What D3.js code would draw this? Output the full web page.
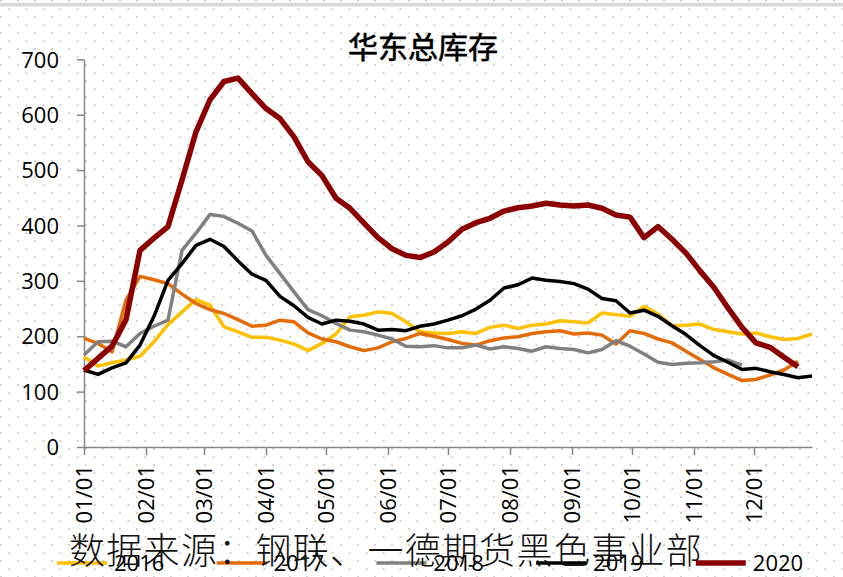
<!DOCTYPE html>
<html>
<head>
<meta charset="utf-8">
<script src="https://cdn.jsdelivr.net/npm/d3@7"></script>
<style>
  body { margin: 0; background: #fff; }
  svg { display: block; }
</style>
</head>
<body>
<div id="chart-area"></div>
<script>
// weekly sample dates (month/day), drawn on a common year axis
var weeks = ["01/01","01/08","01/15","01/22","01/29","02/05","02/12","02/19","02/26","03/04",
    "03/11","03/18","03/25","04/01","04/08","04/15","04/22","04/29","05/06","05/13",
    "05/20","05/27","06/03","06/10","06/17","06/24","07/01","07/08","07/15","07/22",
    "07/29","08/05","08/12","08/19","08/26","09/02","09/09","09/16","09/23","09/30",
    "10/07","10/14","10/21","10/28","11/04","11/11","11/18","11/25","12/02","12/09",
    "12/16","12/23","12/30"];

var monthTicks = ["01/01","02/01","03/01","04/01","05/01","06/01","07/01","08/01","09/01","10/01","11/01","12/01"];
var yTicks = [0, 100, 200, 300, 400, 500, 600, 700];

var years = ["2016", "2017", "2018", "2019", "2020"];
var colors = ["#ffc000", "#e36c09", "#808080", "#000000", "#8b0000"];
var widths = [3.5, 3.5, 3.5, 3.5, 5.5];

var v2016 = [163,146,152,157,164,190,221,244,266,256,217,208,198,198,193,186,174,187,204,235,
    238,244,241,226,208,206,205,208,205,216,220,214,220,222,228,226,224,242,239,236,
    254,240,219,220,222,212,208,204,206,199,194,196,204];
var v2017 = [196,187,172,265,308,302,295,276,259,248,241,230,218,220,229,226,206,195,190,181,
    174,179,190,196,205,200,194,187,184,192,197,199,205,208,210,204,206,202,186,210,
    205,195,188,173,158,143,131,120,122,130,139,155];
var v2018 = [166,190,191,181,205,218,229,355,386,420,416,404,390,346,313,280,248,237,223,211,
    208,202,195,182,181,183,179,179,184,177,181,178,173,181,178,176,170,176,192,182,
    168,153,149,151,152,154,157,148];
var v2019 = [139,131,143,152,184,236,301,331,364,375,362,336,312,301,272,255,234,222,229,227,
    222,211,212,210,218,222,229,237,249,265,287,293,305,301,299,295,285,268,264,242,
    247,236,219,203,183,165,153,140,142,136,131,125,128];
var v2020 = [138,160,182,230,355,377,398,482,569,627,660,666,638,611,593,560,515,490,449,431,
    404,378,358,346,342,352,370,393,405,413,426,432,435,440,437,435,437,431,419,415,
    378,398,375,350,318,288,251,216,188,180,162,145];

var series = [v2016, v2017, v2018, v2019, v2020];

var W = 843, H = 577;
var parseDay = d3.timeParse("%Y/%m/%d");
function toDate(md) { return parseDay("2020/" + md); }

var svg = d3.select("#chart-area").append("svg")
    .attr("width", W)
    .attr("height", H);

// dotted background
var defs = svg.append("defs");
var pat = defs.append("pattern")
    .attr("id", "dots")
    .attr("width", 17)
    .attr("height", 16)
    .attr("patternUnits", "userSpaceOnUse");
pat.append("rect").attr("x", 0).attr("y", 0).attr("width", 2).attr("height", 2).attr("fill", "#d4d4d4");
pat.append("rect").attr("x", 8.5).attr("y", 8).attr("width", 2).attr("height", 2).attr("fill", "#d4d4d4");

svg.append("rect").attr("width", W).attr("height", H).attr("fill", "#fff");
svg.append("rect").attr("width", W).attr("height", H).attr("fill", "url(#dots)");
svg.append("rect").attr("x", 0).attr("y", 3).attr("width", W).attr("height", 3.5).attr("fill", "#d9d9d9");

// scales
var xScale = d3.scaleTime()
    .domain([toDate("01/01"), toDate("12/30")])
    .range([84, 812]);
var yScale = d3.scaleLinear()
    .domain([0, 700])
    .range([447, 59.3]);

// title
svg.append("text")
    .attr("x", 423)
    .attr("y", 45)
    .attr("text-anchor", "middle")
    .attr("dominant-baseline", "central")
    .style("font-family", "'Noto Sans CJK SC'")
    .style("font-size", "30px")
    .attr("stroke", "#000")
    .attr("stroke-width", 0.6)
    .text("华东总库存");

// axes
var yAxis = d3.axisLeft(yScale).tickValues(yTicks).tickSize(7).tickSizeOuter(0).tickPadding(18);
var gy = svg.append("g").attr("class", "y-axis axis").attr("transform", "translate(84,0)").call(yAxis);

var xAxis = d3.axisBottom(xScale)
    .tickValues(monthTicks.map(toDate))
    .tickFormat(d3.timeFormat("%m/%d"))
    .tickSize(8)
    .tickSizeOuter(0);
var gx = svg.append("g").attr("class", "x-axis axis").attr("transform", "translate(0,447)").call(xAxis);

svg.selectAll(".axis path, .axis line")
    .attr("stroke", "#868686")
    .attr("stroke-width", 1.5);
svg.selectAll(".axis text")
    .attr("fill", "#000")
    .style("font-family", "'Open Sans'")
    .style("font-size", "22px");
gy.selectAll("text").attr("dy", "0.35em");
gx.selectAll("text")
    .attr("transform", "rotate(-90)")
    .attr("x", -18)
    .attr("y", 0)
    .attr("dy", "0.36em")
    .attr("text-anchor", "end");

// lines
var line = d3.line()
    .x(function (d, i) { return xScale(toDate(weeks[i])); })
    .y(function (d) { return yScale(d); });

svg.selectAll(".series")
    .data(series)
    .enter()
    .append("path")
    .attr("class", "series")
    .attr("fill", "none")
    .attr("stroke", function (d, i) { return colors[i]; })
    .attr("stroke-width", function (d, i) { return widths[i]; })
    .attr("stroke-linejoin", "round")
    .attr("d", line);

// legend
var legend = svg.selectAll(".legend")
    .data(years)
    .enter()
    .append("g")
    .attr("class", "legend")
    .attr("transform", function (d, i) { return "translate(" + (57 + i * 159.7) + ",563)"; });

legend.append("line")
    .attr("x1", 0).attr("x2", 50)
    .attr("stroke", function (d, i) { return colors[i]; })
    .attr("stroke-width", function (d, i) { return widths[i]; });

legend.append("text")
    .attr("x", 57)
    .attr("y", 0)
    .attr("dy", "0.36em")
    .style("font-family", "'Open Sans'")
    .style("font-size", "22px")
    .text(function (d) { return d; });

// source note, drawn over the legend
svg.append("text")
    .attr("x", 69)
    .attr("y", 548)
    .attr("dominant-baseline", "central")
    .style("font-family", "'Noto Sans CJK SC'")
    .style("font-size", "36px")
    .style("font-weight", "300")
    .style("letter-spacing", "1.3px")
    .attr("fill", "#111")
    .text("数据来源：钢联、一德期货黑色事业部");
</script>
</body>
</html>
